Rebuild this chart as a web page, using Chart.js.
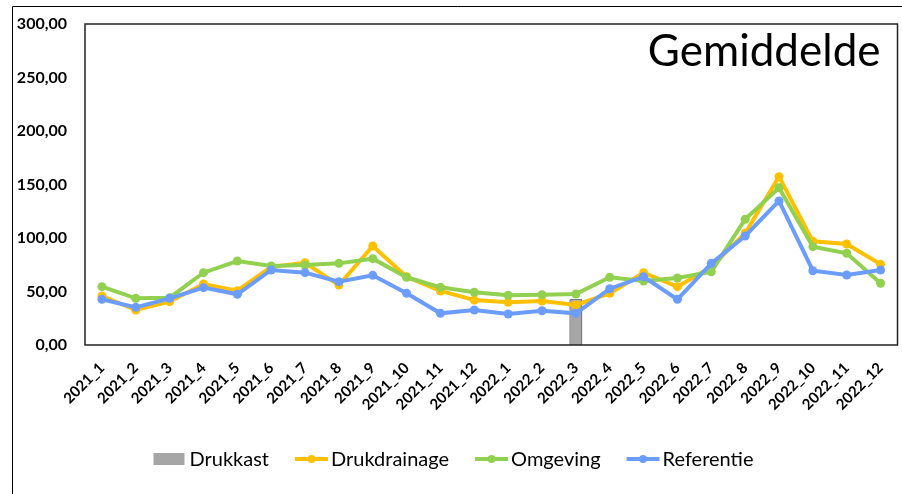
<!DOCTYPE html>
<html>
<head>
<meta charset="utf-8">
<script src="https://cdn.jsdelivr.net/npm/chart.js@4.4.1/dist/chart.umd.min.js"></script>
<style>
  html, body { margin: 0; padding: 0; background: #fff; }
  #wrap { position: relative; width: 902px; height: 494px; }
</style>
</head>
<body>
<div id="wrap"><canvas id="chart" width="902" height="494"></canvas></div>
<script>
// Categories (month labels)
const months = [
  '2021_1', '2021_2', '2021_3', '2021_4', '2021_5', '2021_6',
  '2021_7', '2021_8', '2021_9', '2021_10', '2021_11', '2021_12',
  '2022_1', '2022_2', '2022_3', '2022_4', '2022_5', '2022_6',
  '2022_7', '2022_8', '2022_9', '2022_10', '2022_11', '2022_12',
];

// Series values
const drukkast = [
  null, null, null, null, null, null, null, null, null, null, null, null,
  null, null, 42.7, null, null, null, null, null, null, null, null, null,
];
const drukdrainage = [
  45.8, 32.7, 40.5, 57.0, 50.7, 73.0, 76.9, 56.0, 92.5, 63.8, 50.5, 42.0,
  39.9, 41.1, 37.4, 48.3, 67.6, 54.5, 73.0, 104.4, 157.3, 96.9, 94.4, 75.4,
];
const omgeving = [
  54.5, 43.6, 44.2, 67.6, 78.5, 73.8, 74.8, 76.3, 80.7, 63.3, 53.9, 49.3,
  46.4, 47.0, 47.7, 63.3, 59.8, 62.6, 68.5, 117.5, 147.0, 91.9, 85.7, 57.7,
];
const referentie = [
  42.7, 35.2, 43.6, 53.6, 47.4, 70.1, 67.6, 59.2, 65.1, 48.3, 29.6, 32.7,
  29.0, 32.0, 29.6, 52.6, 63.8, 42.7, 76.3, 101.9, 134.6, 69.4, 65.4, 70.1,
];

// Y axis range
const yMin = 0;
const yMax = 300;
const yStep = 50;

const chartTitle = 'Gemiddelde';
const fontFamily = 'Lato, "Open Sans", sans-serif';

// Frame lines, plot box and title inside the plot
const framePlugin = {
  id: 'frame',
  beforeDraw(chart) {
    const ctx = chart.ctx;
    ctx.save();
    ctx.strokeStyle = '#000';
    ctx.lineWidth = 1;
    ctx.beginPath();
    ctx.moveTo(12.5, 494);
    ctx.lineTo(12.5, 6.5);
    ctx.lineTo(902, 6.5);
    ctx.stroke();
    ctx.restore();
  },
  afterDraw(chart) {
    const { ctx, chartArea } = chart;
    ctx.save();
    ctx.strokeStyle = '#222';
    ctx.lineWidth = 1.5;
    ctx.strokeRect(chartArea.left, chartArea.top, chartArea.right - chartArea.left, chartArea.bottom - chartArea.top);

    ctx.fillStyle = '#000';
    ctx.font = '44px ' + fontFamily;
    ctx.textAlign = 'right';
    ctx.textBaseline = 'alphabetic';
    ctx.fillText(chartTitle, chartArea.right - 17, chartArea.top + 42);
    ctx.restore();
  },
};

// Legend at the bottom, drawn like the spreadsheet legend
const legendPlugin = {
  id: 'bottomLegend',
  afterDraw(chart) {
    const ctx = chart.ctx;
    const y = 459;
    const markerW = 33;
    const textGap = 3;
    const itemGap = 26;
    ctx.save();
    ctx.font = '20px ' + fontFamily;
    ctx.textBaseline = 'middle';
    ctx.textAlign = 'left';

    const items = chart.data.datasets.map((ds) => ({
      label: ds.label,
      color: ds.type === 'line' ? ds.borderColor : ds.backgroundColor,
      isLine: ds.type === 'line',
      width: ctx.measureText(ds.label).width,
    }));
    let total = 0;
    items.forEach((it, i) => {
      total += markerW + textGap + it.width + (i < items.length - 1 ? itemGap : 0);
    });
    let x = 453.5 - total / 2;

    for (let it of items) {
      if (it.isLine) {
        ctx.strokeStyle = it.color;
        ctx.lineWidth = 4;
        ctx.beginPath();
        ctx.moveTo(x, y);
        ctx.lineTo(x + markerW, y);
        ctx.stroke();
        ctx.fillStyle = it.color;
        ctx.beginPath();
        ctx.arc(x + markerW / 2, y, 4, 0, Math.PI * 2);
        ctx.fill();
      } else {
        ctx.fillStyle = it.color;
        ctx.fillRect(x, y - 6, markerW - 2, 12);
      }
      x += markerW + textGap;
      ctx.fillStyle = '#000';
      ctx.fillText(it.label, x, y + 1);
      x += it.width + itemGap;
    }
    ctx.restore();
  },
};

function lineDataset(label, data, color, order) {
  return {
    type: 'line',
    label: label,
    data: data,
    borderColor: color,
    backgroundColor: color,
    borderWidth: 4,
    pointRadius: 4.5,
    pointBorderWidth: 0,
    pointBackgroundColor: color,
    tension: 0,
    fill: false,
    order: order,
  };
}

document.addEventListener('DOMContentLoaded', () => {
  const ctx = document.getElementById('chart').getContext('2d');

  new Chart(ctx, {
    type: 'bar',
    data: {
      labels: months,
      datasets: [
        {
          type: 'bar',
          label: 'Drukkast',
          data: drukkast,
          backgroundColor: '#a6a6a6',
          borderColor: '#222',
          borderWidth: 1,
          barPercentage: 0.38,
          categoryPercentage: 1,
          order: 4,
        },
        lineDataset('Drukdrainage', drukdrainage, '#ffc000', 3),
        lineDataset('Omgeving', omgeving, '#92d050', 2),
        lineDataset('Referentie', referentie, '#6b9cff', 1),
      ],
    },
    options: {
      responsive: false,
      animation: false,
      layout: {
        padding: { left: 0, top: 24, right: 1, bottom: 0 },
      },
      plugins: {
        legend: { display: false },
        title: { display: false },
        tooltip: { enabled: false },
      },
      scales: {
        x: {
          offset: true,
          grid: { display: false, drawTicks: false },
          border: { display: false },
          ticks: {
            color: '#000',
            font: { family: fontFamily, size: 15, weight: 'bold' },
            minRotation: 45,
            maxRotation: 45,
            autoSkip: false,
            padding: 14,
          },
          afterFit(scale) {
            scale.height = 149;
            scale.paddingLeft = 0;
            scale.paddingRight = 0;
          },
        },
        y: {
          min: yMin,
          max: yMax,
          grid: { display: false, drawTicks: false },
          border: { display: false },
          ticks: {
            stepSize: yStep,
            color: '#000',
            font: { family: fontFamily, size: 16, weight: 'bold' },
            padding: 18,
            callback: (value) => value.toFixed(2).replace('.', ','),
          },
          afterFit(scale) {
            scale.width = 85;
            scale.paddingTop = 0;
            scale.paddingBottom = 0;
          },
        },
      },
    },
    plugins: [framePlugin, legendPlugin],
  });
});
</script>
</body>
</html>
